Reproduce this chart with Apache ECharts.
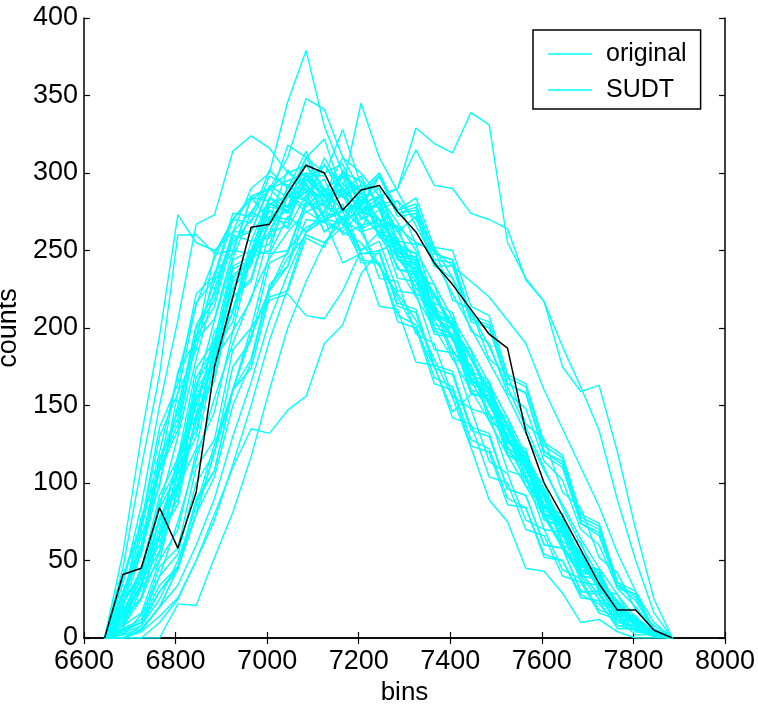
<!DOCTYPE html>
<html>
<head>
<meta charset="utf-8">
<script src="https://cdn.jsdelivr.net/npm/echarts@6/dist/echarts.min.js"></script>
<style>html,body{margin:0;padding:0;background:#fff}#c{width:758px;height:717px}</style>
</head>
<body>
<div id="c"></div>
<script>
// x positions (bins)
const bins = [6645,6685,6725,6765,6805,6845,6885,6925,6965,7005,7045,7085,7125,7165,7205,7245,7285,7325,7365,7405,7445,7485,7525,7565,7605,7645,7685,7725,7765,7805,7845,7885];
const xTicks = [6600,6800,7000,7200,7400,7600,7800,8000];
const yTicks = [0,50,100,150,200,250,300,350,400];

// SUDT (black)
const sudt = [0,41,45,84,58,94,175,220,265,267,287,305,300,276,289,292,275,262,242,228,212,196,187,133,100,79,57,35,18,18,5,0];

// original spectra (cyan)
const o01 = [0,55,130,195,273,255,250,262,275,268,285,290,270,262,275,260,240,220,200,180,160,140,118,98,78,58,42,28,15,6,2,0];
const o02 = [0,45,110,170,260,260,248,270,283,290,300,292,280,270,285,270,252,232,212,192,172,150,130,108,86,66,48,32,18,8,3,0];
const o03 = [0,35,85,150,205,267,273,314,324,316,300,305,290,275,282,265,248,226,205,186,166,145,124,102,80,60,42,28,15,6,2,0];
const o04 = [0,15,45,85,130,180,225,262,290,300,346,379,330,300,295,280,262,242,222,200,180,158,136,112,90,68,50,34,20,9,3,0];
const o05 = [0,10,35,70,115,160,205,245,275,290,310,348,341,310,300,285,268,250,228,206,186,164,142,118,96,74,54,38,22,10,4,0];
const o06 = [0,8,25,55,95,140,185,225,250,270,285,295,305,290,345,310,288,266,244,222,200,178,156,132,108,86,64,45,28,13,5,0];
const o07 = [0,0,8,25,50,85,125,160,195,225,245,260,255,265,280,285,290,329,319,313,339,331,255,232,217,188,162,134,89,50,16,0];
const o08 = [0,0,5,20,45,80,120,160,195,225,250,265,270,275,280,285,290,315,292,290,274,270,264,231,217,175,159,163,120,70,25,0];
const o09 = [0,2,15,40,75,115,155,190,220,245,262,275,280,270,275,270,265,255,250,240,230,220,205,190,160,135,110,85,55,30,10,0];
const o10 = [0,0,0,0,22,21,52,81,117,160,200,230,255,270,275,280,282,270,252,232,210,188,162,136,110,84,60,40,22,9,3,0];
const o11 = [0,0,0,10,25,50,80,110,135,132,147,156,190,202,235,250,255,240,222,202,182,160,138,116,94,72,52,35,20,8,3,0];
const o12 = [0,0,5,20,45,80,120,160,200,218,222,208,206,224,250,262,255,238,220,200,180,158,136,114,92,70,50,32,18,8,3,0];
const o13 = [0,25,70,120,170,215,245,270,285,290,295,300,285,270,262,240,220,198,175,146,157,157,130,105,80,58,40,25,12,5,2,0];
const o14 = [0,20,55,100,150,195,230,255,270,280,285,275,268,262,255,240,222,205,180,155,123,89,75,45,43,29,10,12,4,0,0,0];
const o15 = [0,18,34,78,98,156,180,232,244,280,276,300,284,298,270,282,244,238,202,200,160,156,120,112,80,72,44,38,16,10,2,0];
const o16 = [0,24,78,108,172,192,248,250,284,270,302,288,296,266,288,258,256,220,214,180,176,140,132,98,90,60,54,30,24,8,5,0];
const o17 = [0,6,10,40,54,100,120,175,192,242,248,282,274,300,280,298,272,274,240,232,198,190,158,148,114,102,70,60,32,20,5,0];
const o18 = [0,8,36,56,106,130,186,204,250,254,286,278,290,260,266,232,230,196,190,156,148,114,106,76,70,44,38,18,14,4,2,0];
const o19 = [0,38,72,130,158,216,232,270,268,298,292,300,270,268,244,242,208,202,168,162,128,122,90,84,54,50,28,22,8,5,1,0];
const o20 = [0,10,40,60,110,134,190,210,256,258,292,282,310,288,298,276,282,254,252,218,212,180,170,138,128,94,84,52,42,18,8,0];
const o21 = [0,5,10,30,46,80,104,150,178,224,240,280,280,300,278,278,246,244,208,202,166,158,126,116,84,76,48,42,18,12,3,0];
const o22 = [0,20,66,98,158,186,236,248,284,282,318,310,322,286,292,260,258,222,216,184,176,144,136,102,94,62,56,30,24,7,4,0];
const o23 = [0,16,42,75,112,150,192,225,242,268,276,290,278,286,272,262,245,230,208,195,172,152,134,110,92,70,54,38,24,11,4,0];
const o24 = [0,3,8,30,44,88,108,160,180,228,240,270,268,290,278,298,276,280,248,244,206,200,164,158,118,110,74,66,34,24,5,0];
const o25 = [0,30,60,116,146,202,222,260,256,284,274,296,286,286,262,266,232,230,196,194,158,154,118,114,78,74,42,40,16,12,2,0];
const o26 = [0,12,46,66,118,144,198,212,250,248,272,262,270,242,248,214,212,178,176,142,138,104,100,70,66,40,36,16,12,2,2,0];
const o27 = [0,12,26,66,90,144,170,220,232,272,270,296,284,294,274,280,248,246,210,204,168,162,126,120,84,80,46,44,18,14,2,0];
const o28 = [0,8,16,50,70,120,146,198,218,262,266,300,298,328,292,290,254,248,210,204,166,160,122,116,80,76,42,40,16,12,2,0];
const o29 = [0,28,56,110,138,194,214,258,262,290,278,288,262,270,248,248,214,210,174,170,134,130,96,92,60,58,30,30,10,8,1,0];
const o30 = [0,14,32,76,96,154,176,230,240,278,276,300,288,300,286,298,274,278,248,244,208,204,168,162,124,116,78,72,36,26,6,0];
const o31 = [0,2,6,20,34,60,90,130,165,205,235,262,276,298,270,276,244,242,206,200,164,158,122,116,80,76,44,40,16,12,2,0];
const o32 = [0,22,42,88,110,168,188,240,246,284,278,306,280,290,276,280,246,246,208,204,166,162,126,120,84,80,48,44,18,14,2,0];
const o33 = [0,40,74,136,164,222,234,274,272,302,290,314,286,290,266,270,238,234,198,194,158,154,118,112,76,72,40,38,14,10,1,0];
const o34 = [0,4,10,34,46,90,108,160,174,220,224,258,252,278,264,286,262,272,240,240,204,200,164,158,120,114,76,70,34,28,5,0];
const o35 = [0,18,38,84,106,164,186,238,244,280,274,294,272,276,242,242,204,200,164,160,124,120,86,84,52,50,26,24,6,6,1,0];
const o36 = [0,6,32,50,98,122,180,198,246,250,286,282,306,284,292,266,266,232,228,192,186,150,142,108,100,66,62,32,28,8,5,0];
const o37 = [0,30,58,114,142,200,218,262,262,292,284,310,288,300,288,300,274,276,244,242,206,202,164,158,120,112,74,68,32,28,4,0];
const o38 = [0,16,32,78,100,160,180,234,244,280,278,310,300,306,276,284,252,248,212,206,170,164,126,120,82,78,44,42,14,14,2,0];
const o39 = [0,0,4,14,26,50,76,112,150,192,226,262,270,302,282,290,256,254,216,210,172,166,128,122,84,80,46,44,16,14,2,0];
const o40 = [0,22,44,92,116,174,192,244,250,284,278,292,282,290,264,270,238,236,200,196,158,154,118,112,76,72,40,38,12,12,1,0];
const o41 = [0,12,26,66,86,144,166,220,230,270,268,298,286,310,288,300,276,284,252,250,214,208,170,164,126,118,80,74,36,30,5,0];
const o42 = [0,28,54,108,134,192,206,250,248,276,264,286,262,272,250,256,224,222,186,184,148,144,108,104,70,68,36,34,12,10,1,0];
const o43 = [0,12,34,66,100,140,182,210,246,262,290,298,284,290,276,270,250,236,210,194,168,152,128,110,86,70,50,36,20,10,3,0];
const o44 = [0,6,12,46,58,110,128,186,200,248,250,282,268,280,248,250,216,212,176,172,136,132,96,92,60,58,30,28,8,8,1,0];

const originals = [o01,o02,o03,o04,o05,o06,o07,o08,o09,o10,o11,o12,o13,o14,o15,o16,o17,o18,o19,o20,o21,o22,
  o23,o24,o25,o26,o27,o28,o29,o30,o31,o32,o33,o34,o35,o36,o37,o38,o39,o40,o41,o42,o43,o44];

const CYAN = '#00ffff';
const FONT = "'Liberation Sans', Arial, Helvetica, sans-serif";
const pair = vals => vals.map((v, i) => [bins[i], v]);
const LINE_ICON = 'path://M0,0 M0,12.3 L44,12.3 L44,13.7 L0,13.7 Z M44,26';

const series = originals.map(vals => ({
  name: 'original', type: 'line', data: pair(vals), symbol: 'none', showSymbol: false,
  lineStyle: { color: CYAN, width: 1.4 }, itemStyle: { color: CYAN }, z: 2, silent: true
}));
series.push({
  name: 'SUDT', type: 'line', data: pair(sudt), symbol: 'none', showSymbol: false,
  lineStyle: { color: '#000', width: 1.5 }, itemStyle: { color: '#000' }, z: 5, silent: true
});

const chart = echarts.init(document.getElementById('c'), null, { renderer: 'canvas' });
const axisLine = { show: true, lineStyle: { color: '#000', width: 1.5 } };
const tickIn = { show: true, inside: true, length: 6, lineStyle: { color: '#000', width: 1.2 } };
chart.setOption({
  animation: false,
  backgroundColor: '#fff',
  grid: { left: 84, top: 18, width: 641, height: 620, containLabel: false, outerBoundsMode: 'none' },
  legend: {
    left: 533, top: 30, orient: 'vertical',
    backgroundColor: '#fff', borderColor: '#000', borderWidth: 1.5, borderRadius: 0,
    padding: [11, 14, 6, 15], itemWidth: 44, itemHeight: 26, itemGap: 10,
    textStyle: { fontFamily: FONT, fontSize: 25, color: '#000', padding: [0, 0, 0, 9] },
    data: [
      { name: 'original', icon: LINE_ICON, itemStyle: { color: CYAN, borderWidth: 0 } },
      { name: 'SUDT', icon: LINE_ICON, itemStyle: { color: CYAN, borderWidth: 0 } }
    ]
  },
  xAxis: [
    { type: 'value', min: 6600, max: 8000, interval: 200, position: 'bottom',
      name: 'bins', nameLocation: 'middle', nameGap: 41,
      nameTextStyle: { fontFamily: FONT, fontSize: 26, color: '#000' },
      axisLine, axisTick: tickIn, splitLine: { show: false },
      axisLabel: { fontFamily: FONT, fontSize: 27, color: '#000', margin: 10,
        formatter: v => xTicks.includes(v) ? String(v) : '' } },
    { type: 'value', min: 6600, max: 8000, interval: 200, position: 'top',
      axisLine, axisTick: tickIn, axisLabel: { show: false }, splitLine: { show: false } }
  ],
  yAxis: [
    { type: 'value', min: 0, max: 400, interval: 50, position: 'left',
      name: 'counts', nameLocation: 'middle', nameGap: 47, nameRotate: 90,
      nameTextStyle: { fontFamily: FONT, fontSize: 27, color: '#000' },
      axisLine, axisTick: tickIn, splitLine: { show: false },
      axisLabel: { fontFamily: FONT, fontSize: 27, color: '#000', margin: 6,
        formatter: v => yTicks.includes(v) ? String(v) : '' } },
    { type: 'value', min: 0, max: 400, interval: 50, position: 'right',
      axisLine, axisTick: tickIn, axisLabel: { show: false }, splitLine: { show: false } }
  ],
  series
});
</script>
</body>
</html>
